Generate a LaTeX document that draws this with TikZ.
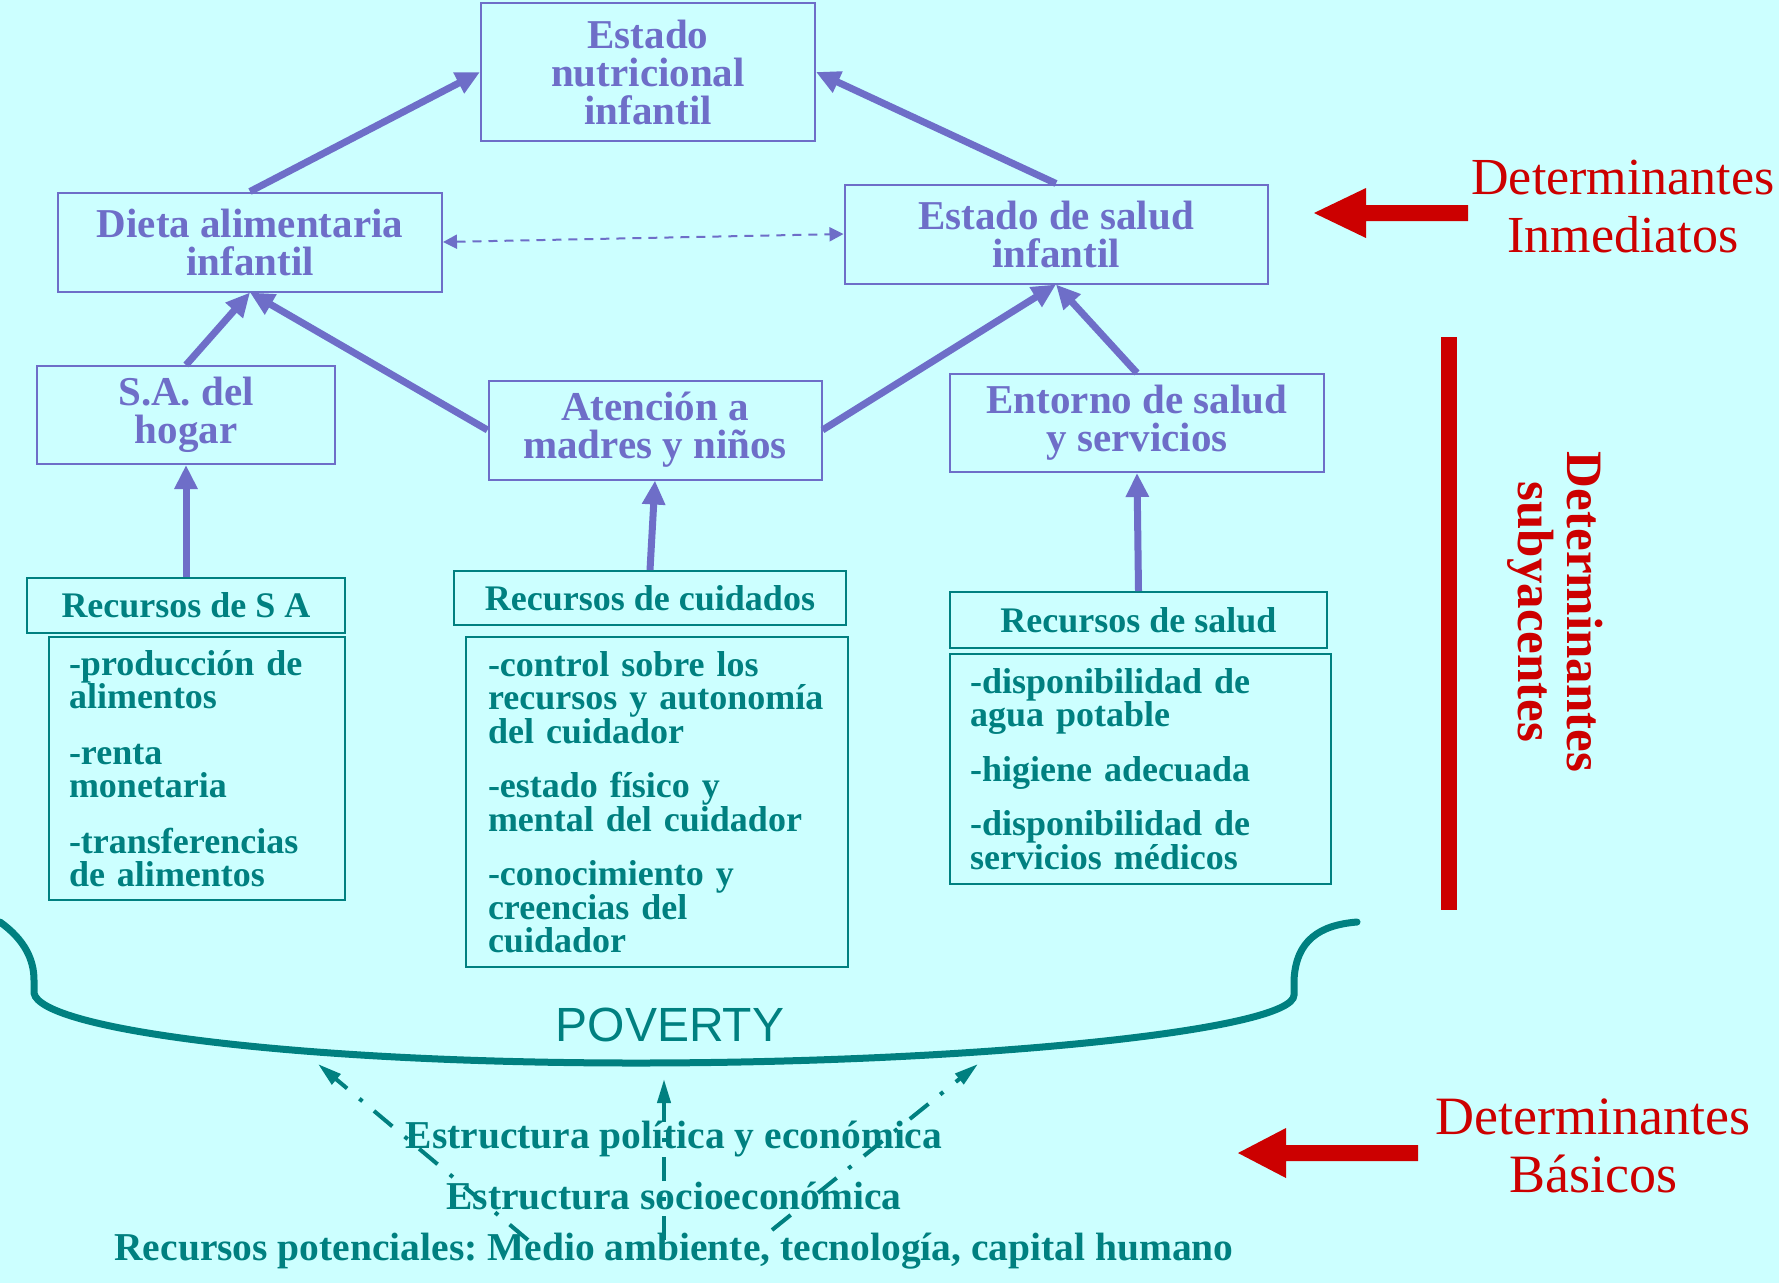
\documentclass[tikz,border=0pt]{standalone}
\usepackage{fontspec}
\setmainfont{Liberation Serif}
\newfontfamily\povfont{Liberation Sans}
\usetikzlibrary{arrows.meta,calc}
\definecolor{bgc}{RGB}{204,255,255}
\definecolor{purp}{RGB}{110,110,200}
\definecolor{tealc}{RGB}{0,128,128}
\definecolor{redc}{RGB}{204,0,0}
\frenchspacing
\begin{document}
\begin{tikzpicture}[x=1pt,y=-1pt,
  pbox/.style={draw=purp,line width=2pt,text=purp,font=\bfseries\fontsize{41}{38}\selectfont,align=center,inner sep=0pt},
  tbox/.style={draw=tealc,line width=2pt,text=tealc,font=\bfseries\fontsize{36}{34}\selectfont,inner sep=0pt},
  lbox/.style={draw=tealc,line width=2pt,text=tealc,font=\bfseries\fontsize{36}{33.5}\selectfont,align=left,inner ysep=0pt},
  parr/.style={draw=purp,line width=7pt,-{Triangle[length=24pt,width=22pt]}},
  pdash/.style={draw=purp,line width=2pt,dash pattern=on 9pt off 7pt,{Triangle[length=14pt,width=14pt]}-{Triangle[length=14pt,width=14pt]}},
  tarr/.style={draw=tealc,line width=4pt,dash pattern=on 24pt off 15pt on 4pt off 16pt,-{Triangle[length=24pt,width=13pt]}},
  bottxt/.style={text=tealc,font=\bfseries\fontsize{39.5}{44}\selectfont,inner sep=0pt},
  redtxt/.style={text=redc,font=\fontsize{54}{58}\selectfont,align=center,inner sep=0pt}
]
\useasboundingbox (0,0) rectangle (1779,1283);
\fill[bgc] (0,0) rectangle (1779,1283);

% purple boxes
\node[pbox,minimum width=334pt,minimum height=138pt] (nut) at (648,72) {Estado\\nutricional\\infantil};
\node[pbox,minimum width=384pt,minimum height=99pt] (diet) at (250,242) {Dieta alimentaria\\infantil};
\node[pbox,minimum width=423pt,minimum height=99pt] (salud) at (1056,234) {Estado de salud\\infantil};
\node[pbox,minimum width=298pt,minimum height=98pt] (sa) at (186,415) {S.A. del\\hogar};
\node[pbox,minimum width=333pt,minimum height=99pt] (aten) at (655,430) {Atención a\\madres y niños};
\node[pbox,minimum width=374pt,minimum height=98pt] (ent) at (1137,423) {Entorno de salud\\y servicios};

% teal header boxes
\node[tbox,minimum width=318pt,minimum height=55pt] (rsa) at (186,605.5) {Recursos de S A};
\node[tbox,minimum width=392pt,minimum height=54pt] (rcu) at (650,598) {Recursos de cuidados};
\node[tbox,minimum width=377pt,minimum height=56pt] (rsl) at (1138.5,620) {Recursos de salud};

% teal list boxes
\node[lbox,text width=256pt,inner xsep=20pt,minimum height=263pt] (lsa) at (197,768.5)
 {-producción de\\alimentos\\[22pt]-renta\\monetaria\\[22pt]-transferencias\\de alimentos};
\node[lbox,text width=338pt,inner xsep=22pt,minimum height=330pt] (lcu) at (657,802)
 {-control sobre los\\recursos y autonomía\\del cuidador\\[21pt]-estado físico y\\mental del cuidador\\[21pt]-conocimiento y\\creencias del\\cuidador};
\node[lbox,text width=341pt,inner xsep=20pt,minimum height=230pt] (lsl) at (1140.5,769)
 {-disponibilidad de\\agua potable\\[21pt]-higiene adecuada\\[21pt]-disponibilidad de\\servicios médicos};

% purple connectors
\draw[parr] (diet.north) -- (nut.west);
\draw[parr] (salud.north) -- (nut.east);
\draw[pdash] (diet.east) -- (salud.west);
\draw[parr] (sa.north) -- (diet.south);
\draw[parr] (aten.west) -- (diet.south);
\draw[parr] (aten.east) -- (salud.south);
\draw[parr] (ent.north) -- (salud.south);
\draw[parr] (rsa.north) -- (sa.south);
\draw[parr] (rcu.north) -- (aten.south);
\draw[parr] (rsl.north) -- (ent.south);

% red bar and labels
\fill[redc] (1441,337) rectangle (1457,910);
\node[redtxt,font=\fontsize{52}{58}\selectfont] (inm) at (1623,207) {Determinantes\\Inmediatos};
\fill[redc] (1468,205) -- (1366,205) -- (1366,188) -- (1314,213) -- (1366,238) -- (1366,221) -- (1468,221) -- cycle;
\node[text=redc,font=\bfseries\fontsize{51}{49}\selectfont,align=center,inner sep=0pt,rotate=-90] (sub) at (1555,612) {Determinantes\\subyacentes};
\node[redtxt] (bas) at (1593,1146) {Determinantes\\Básicos};
\fill[redc] (1418,1145) -- (1286,1145) -- (1286,1128) -- (1238,1153) -- (1286,1178) -- (1286,1161) -- (1418,1161) -- cycle;

% poverty brace
\draw[tealc,line width=7pt,line cap=round] (0,922) .. controls (25,940) and (34,960) .. (34,980) -- (34,993)
  .. controls (40,1030) and (300,1063) .. (636,1063)
  .. controls (980,1063) and (1294,1030) .. (1294,995) -- (1294,980)
  .. controls (1296,940) and (1320,925) .. (1357,922);
\node[text=tealc,font=\povfont\fontsize{48}{52}\selectfont,inner sep=0pt] (pov) at (670,1025) {POVERTY};

% basic determinants arrows
\coordinate (a1) at (528,1240);
\coordinate (b1) at (318,1064);
\coordinate (a2) at (664,1240);
\coordinate (b2) at (664,1079);
\coordinate (a3) at (772,1230);
\coordinate (b3) at (978,1064);
\draw[tarr] (a1) -- (b1);
\draw[tarr] (a2) -- (b2);
\draw[tarr] (a3) -- (b3);

\node[bottxt] (t1) at (674,1139) {Estructura política y económica};
\node[bottxt] (t2) at (674,1196) {Estructura socioeconómica};
\node[bottxt] (t3) at (674,1251) {Recursos potenciales: Medio ambiente, tecnología, capital humano};
\end{tikzpicture}
\end{document}
